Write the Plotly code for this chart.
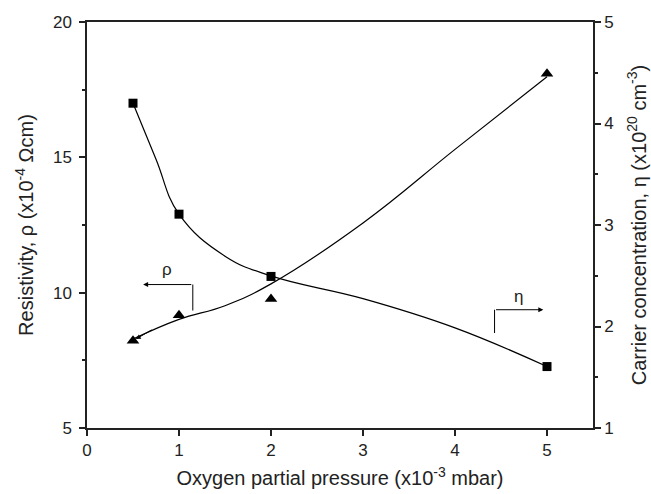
import plotly.graph_objects as go

# Data
pressure = [0.5, 1.0, 2.0, 5.0]
resistivity = [17.0, 12.9, 10.6, 7.27]
carrier = [1.86, 2.11, 2.27, 4.49]

# Smooth guide curves
res_fit_x = [0.5, 0.75, 1.0, 1.5, 2.0, 3.0, 4.0, 5.0]
res_fit_y = [17.0, 14.93, 12.9, 11.35, 10.62, 9.78, 8.7, 7.27]
car_fit_x = [0.5, 1.0, 1.5, 2.0, 3.0, 4.0, 5.0]
car_fit_y = [1.876, 2.07, 2.205, 2.42, 3.02, 3.745, 4.46]

FONT = "Liberation Sans, Arial, sans-serif"
AX = "#222222"

fig = go.Figure()
fig.add_trace(go.Scatter(x=res_fit_x, y=res_fit_y, mode="lines",
                         line=dict(color="black", width=1.2, shape="spline", smoothing=1.2),
                         showlegend=False, hoverinfo="skip"))
fig.add_trace(go.Scatter(x=car_fit_x, y=car_fit_y, mode="lines", yaxis="y2",
                         line=dict(color="black", width=1.2, shape="spline", smoothing=1.2),
                         showlegend=False, hoverinfo="skip"))
fig.add_trace(go.Scatter(x=pressure, y=resistivity, mode="markers",
                         marker=dict(symbol="square", size=9, color="black"),
                         showlegend=False))
fig.add_trace(go.Scatter(x=pressure, y=carrier, mode="markers", yaxis="y2",
                         marker=dict(symbol="triangle-up", size=11, color="black"),
                         showlegend=False))

# rho indicator (points left)
fig.add_shape(type="line", x0=1.15, x1=1.15, y0=9.34, y1=10.3, xref="x", yref="y",
              line=dict(color="black", width=1))
fig.add_annotation(x=0.61, y=10.3, ax=1.15, ay=10.3, xref="x", yref="y", axref="x", ayref="y",
                   text="", showarrow=True, arrowhead=2, arrowsize=1, arrowwidth=1, arrowcolor="black")
fig.add_annotation(x=0.87, y=10.85, xref="x", yref="y", text="ρ", showarrow=False,
                   font=dict(family=FONT, size=17, color=AX))
# eta indicator (points right)
fig.add_shape(type="line", x0=4.43, x1=4.43, y0=8.51, y1=9.37, xref="x", yref="y",
              line=dict(color="black", width=1))
fig.add_annotation(x=4.96, y=9.37, ax=4.43, ay=9.37, xref="x", yref="y", axref="x", ayref="y",
                   text="", showarrow=True, arrowhead=2, arrowsize=1, arrowwidth=1, arrowcolor="black")
fig.add_annotation(x=4.69, y=9.86, xref="x", yref="y", text="η", showarrow=False,
                   font=dict(family=FONT, size=17, color=AX))
# arrowhead at start of carrier curve
fig.add_annotation(x=0.53, y=1.876, ax=0.72, ay=1.975, xref="x", yref="y2", axref="x", ayref="y2",
                   text="", showarrow=True, arrowhead=2, arrowsize=1, arrowwidth=1, arrowcolor="black")

fig.update_layout(
    width=651, height=494,
    margin=dict(l=87, r=58, t=22, b=66),
    paper_bgcolor="white", plot_bgcolor="white",
    font=dict(family=FONT, size=17, color=AX),
    xaxis=dict(range=[0, 5.5], tick0=0, dtick=1, ticks="outside", ticklen=6, tickwidth=1.5,
               tickcolor=AX, showline=True, linecolor=AX, linewidth=1.5, mirror=True,
               showgrid=False, zeroline=False, automargin=False,
               title=dict(text="Oxygen partial pressure (x10<sup>-3</sup> mbar)", standoff=12)),
    yaxis=dict(range=[5, 20], tick0=5, dtick=5, ticks="outside", ticklen=6, tickwidth=1.5,
               tickcolor=AX, showline=True, linecolor=AX, linewidth=1.5,
               showgrid=False, zeroline=False, ticklabelstandoff=4, automargin=False,
               minor=dict(dtick=2.5, ticks="outside", ticklen=3, tickcolor=AX, tickwidth=1.5),
               title=dict(text="Resistivity, ρ (x10<sup>-4</sup> Ωcm)", standoff=14)),
    yaxis2=dict(range=[1, 5], tick0=1, dtick=1, overlaying="y", side="right",
                ticks="outside", ticklen=6, tickwidth=1.5, tickcolor=AX, automargin=False,
                showline=True, linecolor=AX, linewidth=1.5, showgrid=False, zeroline=False,
                minor=dict(dtick=0.5, ticks="outside", ticklen=3, tickcolor=AX, tickwidth=1.5),
                title=dict(text="Carrier concentration, η (x10<sup>20</sup> cm<sup>-3</sup>)", standoff=19)),
)

fig.write_html("out.html")
